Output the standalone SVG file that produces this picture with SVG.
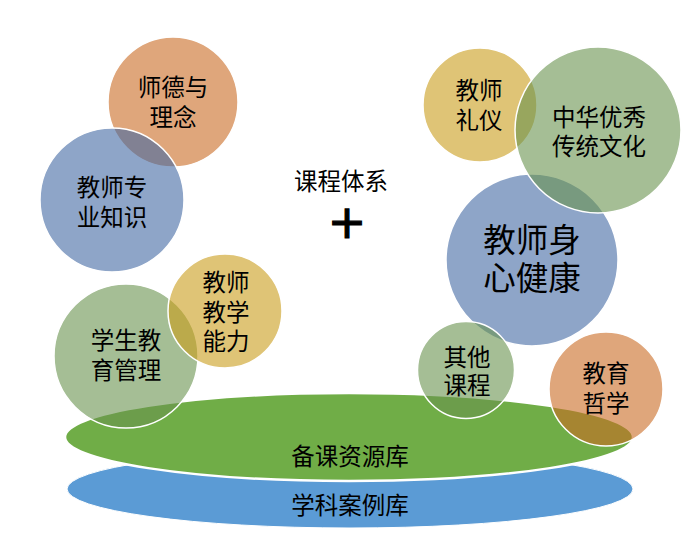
<svg xmlns="http://www.w3.org/2000/svg" width="700" height="546" viewBox="0 0 700 546">
<style>
.c{stroke:#fff;stroke-width:1.5;fill-opacity:0.6}
.o{fill:#CA6B23}.b{fill:#4369A3}.g{fill:#69934E}.y{fill:#CA9D1B}
text{font-family:"Liberation Sans","Noto Sans CJK SC",sans-serif;font-size:23.5px;fill:#000;text-anchor:middle}
.big{font-size:32.5px}
.plus{font-family:"DejaVu Sans",sans-serif;font-size:46px;stroke:#000;stroke-width:1.2}
</style>
<rect width="700" height="546" fill="#fff"/>
<g id="base-case">
<ellipse cx="350" cy="489" rx="283" ry="39" fill="#5B9BD5" stroke="#fff" stroke-width="1"/>
<text x="350" y="514">学科案例库</text>
</g>
<g id="base-prep">
<ellipse cx="349" cy="437" rx="284" ry="44" fill="#70AD47" stroke="#fff" stroke-width="2.5"/>
<text x="350" y="465">备课资源库</text>
</g>
<g id="center">
<text x="341" y="190">课程体系</text>
<text class="plus" x="347" y="238">+</text>
</g>
<g id="n1"><circle class="c o" cx="173" cy="102" r="65"/><text x="173" y="96">师德与</text><text x="173" y="126">理念</text></g>
<g id="n2"><circle class="c b" cx="112" cy="200" r="72"/><text x="112" y="196">教师专</text><text x="112" y="226">业知识</text></g>
<g id="n3"><circle class="c g" cx="126" cy="356" r="72"/><text x="126" y="349">学生教</text><text x="126" y="379">育管理</text></g>
<g id="n4"><circle class="c y" cx="225" cy="311" r="57"/><text x="226" y="291">教师</text><text x="226" y="321">教学</text><text x="226" y="350">能力</text></g>
<g id="n5"><circle class="c y" cx="480" cy="105" r="57"/><text x="479" y="99">教师</text><text x="479" y="129">礼仪</text></g>
<g id="n7"><circle class="c b" cx="532" cy="260" r="86"/><text class="big" x="532" y="252">教师身</text><text class="big" x="532" y="290">心健康</text></g>
<g id="n6"><circle class="c g" cx="598" cy="130" r="83"/><text x="599" y="126">中华优秀</text><text x="599" y="155">传统文化</text></g>
<g id="n8"><circle class="c g" cx="466" cy="370" r="48.5"/><text x="467" y="366">其他</text><text x="467" y="394">课程</text></g>
<g id="n9"><circle class="c o" cx="606" cy="389" r="57"/><text x="606" y="382">教育</text><text x="606" y="412">哲学</text></g>
<g id="connectors"></g>
</svg>
